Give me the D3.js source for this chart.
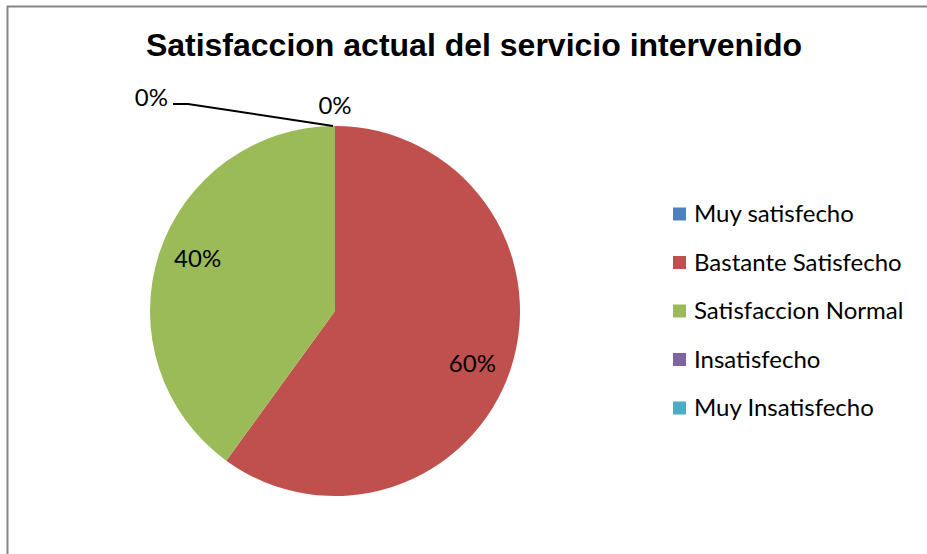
<!DOCTYPE html>
<html>
<head>
<meta charset="utf-8">
<script src="https://cdn.jsdelivr.net/npm/d3@7"></script>
<style>
  html, body { margin: 0; padding: 0; background: #fff; }
  svg { display: block; }
</style>
</head>
<body>
<div id="chart"></div>
<script>
(function () {
  // Data
  const categories = [
    "Muy satisfecho",
    "Bastante Satisfecho",
    "Satisfaccion Normal",
    "Insatisfecho",
    "Muy Insatisfecho",
  ];
  const values = [0, 60, 40, 0, 0];
  const colors = ["#4f81bd", "#c0504d", "#9bbb59", "#8064a2", "#4bacc6"];
  const title = "Satisfaccion actual del servicio intervenido";

  // Dimensions
  const width = 927;
  const height = 554;
  const cx = 335;
  const cy = 311;
  const radius = 185;
  const labelFont = "Lato, 'Open Sans', sans-serif";
  const labelSize = "24px";

  const svg = d3
    .select("#chart")
    .append("svg")
    .attr("width", width)
    .attr("height", height);

  // Chart frame
  svg
    .append("rect")
    .attr("x", 7.5)
    .attr("y", 6.5)
    .attr("width", width + 20)
    .attr("height", height + 20)
    .attr("fill", "#fff")
    .attr("stroke", "#868686")
    .attr("stroke-width", 2);

  // Title
  svg
    .append("text")
    .attr("x", 474)
    .attr("y", 56)
    .attr("text-anchor", "middle")
    .style("font-family", "'Liberation Sans', Arial, sans-serif")
    .style("font-weight", "bold")
    .style("font-size", "32px")
    .style("fill", "#000")
    .text(title);

  // Pie
  const data = categories.map((c, i) => ({ name: c, value: values[i], color: colors[i] }));
  const pie = d3.pie().sort(null).value((d) => d.value);
  const arcs = pie(data);
  const arc = d3.arc().innerRadius(0).outerRadius(radius);
  const labelArc = d3.arc().innerRadius(147).outerRadius(147);
  const shift = 0.05; // excel nudges labels a little clockwise

  const g = svg.append("g").attr("transform", `translate(${cx},${cy})`);
  g.selectAll("path")
    .data(arcs.filter((d) => d.value > 0))
    .join("path")
    .attr("d", arc)
    .attr("fill", (d) => d.data.color);

  // Data labels for slices with value
  g.selectAll("text.pct")
    .data(arcs.filter((d) => d.value > 0))
    .join("text")
    .attr("class", "pct")
    .attr("transform", (d) => {
      const c = labelArc.centroid({ startAngle: d.startAngle + shift, endAngle: d.endAngle + shift });
      return `translate(${c})`;
    })
    .attr("text-anchor", "middle")
    .attr("dy", "0.35em")
    .style("font-family", labelFont)
    .style("font-size", labelSize)
    .style("fill", "#000")
    .text((d) => d.value + "%");

  // Zero-value labels: first one just above the top, one pushed out with a leader
  const top = arcs[0];
  g.append("text")
    .attr("x", 0)
    .attr("y", -radius - 12)
    .attr("text-anchor", "middle")
    .style("font-family", labelFont)
    .style("font-size", labelSize)
    .style("fill", "#000")
    .text(top.value + "%");

  const zeroLead = arcs[3];
  g.append("path")
    .attr("d", d3.line()([
      [-2, -radius],
      [-147, -207],
      [-162, -207],
    ]))
    .attr("fill", "none")
    .attr("stroke", "#000")
    .attr("stroke-width", 2);
  g.append("text")
    .attr("x", -167)
    .attr("y", -205)
    .attr("text-anchor", "end")
    .style("font-family", labelFont)
    .style("font-size", labelSize)
    .style("fill", "#000")
    .text(zeroLead.value + "%");

  // Legend
  const legend = svg
    .append("g")
    .attr("transform", "translate(673,214)")
    .selectAll("g")
    .data(data)
    .join("g")
    .attr("transform", (d, i) => `translate(0,${i * 48.5})`);
  legend
    .append("rect")
    .attr("x", 0)
    .attr("y", -6.5)
    .attr("width", 13)
    .attr("height", 13)
    .attr("fill", (d) => d.color);
  legend
    .append("text")
    .attr("x", 21)
    .attr("dy", "0.35em")
    .style("font-family", labelFont)
    .style("font-size", labelSize)
    .style("fill", "#000")
    .text((d) => d.name);
})();
</script>
</body>
</html>
